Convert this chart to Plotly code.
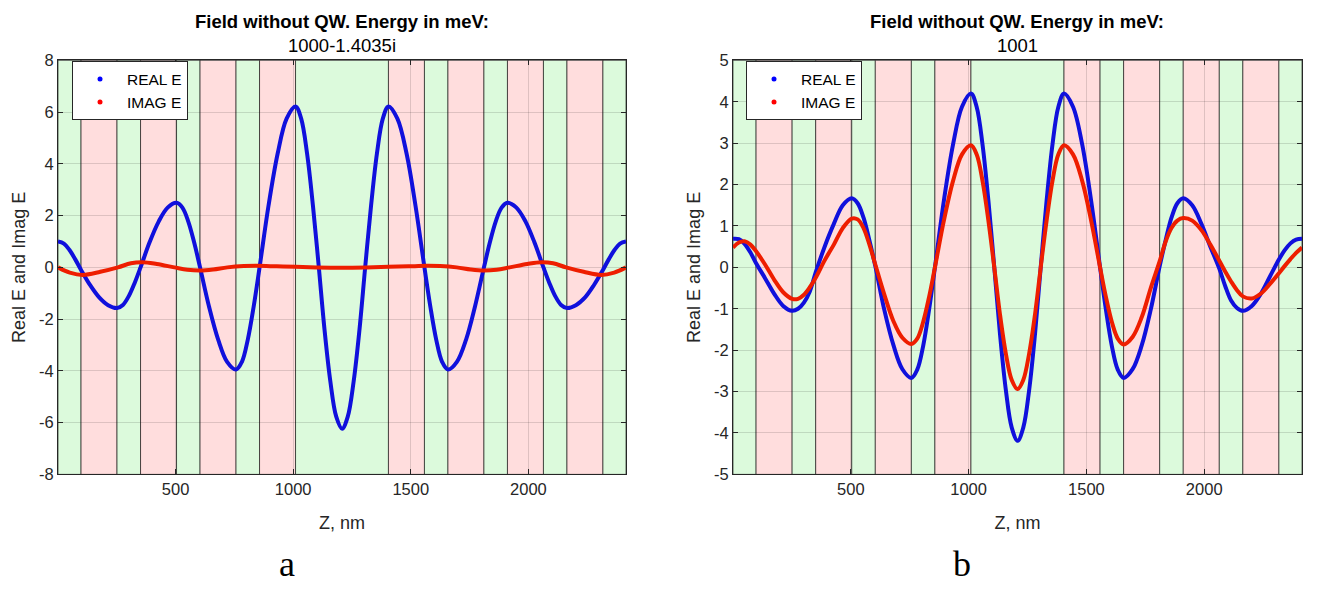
import plotly.graph_objects as go

# ---------------- data ----------------
layer_edges = [0, 98, 251, 351, 504, 604, 757, 857, 1010, 1405, 1558, 1658, 1811, 1911, 2064, 2164, 2317, 2415]
layer_kind = ['g', 'r', 'g', 'r', 'g', 'r', 'g', 'r', 'g', 'r', 'g', 'r', 'g', 'r', 'g', 'r', 'g']

# sample positions (nm) used for the field readings
z_samples = [0, 25, 49, 74, 98, 136, 175, 213, 251, 276, 301, 326, 351, 389, 428, 466, 504, 529, 554, 579, 604,
             642, 681, 719, 757, 782, 807, 832, 857, 895, 934, 972, 1010,
             1034, 1059, 1084, 1109, 1133, 1158, 1183, 1208, 1232, 1257, 1282, 1306, 1331, 1356, 1381, 1405,
             1443, 1482, 1520, 1558, 1583, 1608, 1633, 1658, 1696, 1735, 1773, 1811, 1836, 1861, 1886, 1911,
             1949, 1988, 2026, 2064, 2089, 2114, 2139, 2164, 2202, 2241, 2279, 2317, 2341, 2366, 2390, 2415]

# panel a : E = 1000-1.4035i meV
e_a_real = [1.0, 0.92, 0.67, 0.3, -0.1, -0.68, -1.16, -1.46, -1.57, -1.45, -1.11, -0.6, 0.0, 0.96, 1.77, 2.31, 2.5, 2.31, 1.77, 0.96, 0.0,
            -1.51, -2.79, -3.65, -3.95, -3.65, -2.79, -1.51, 0.0, 2.38, 4.4, 5.75, 6.22,
            5.75, 4.4, 2.38, 0.0, -2.39, -4.41, -5.77, -6.24, -5.77, -4.41, -2.39, 0.0, 2.38, 4.4, 5.75, 6.22,
            5.75, 4.4, 2.38, 0.0, -1.51, -2.79, -3.65, -3.95, -3.65, -2.79, -1.51, 0.0, 0.96, 1.77, 2.31, 2.5,
            2.31, 1.77, 0.96, 0.0, -0.6, -1.11, -1.45, -1.57, -1.46, -1.16, -0.68, -0.1, 0.3, 0.67, 0.92, 1.0]
z_a_imag = [0, 50, 105, 180, 255, 310, 360, 420, 495, 550, 605, 660, 720, 790, 850, 930, 1010, 1100, 1208,
            1310, 1405, 1490, 1565, 1625, 1695, 1755, 1810, 1865, 1920, 1995, 2055, 2105, 2160, 2235, 2310, 2365, 2415]
e_a_imag = [0.0, -0.2, -0.29, -0.17, 0.0, 0.16, 0.2, 0.13, 0.0, -0.09, -0.12, -0.08, 0.0, 0.05, 0.06, 0.04, 0.02, 0.0, -0.01,
            0.0, 0.02, 0.04, 0.06, 0.05, 0.0, -0.08, -0.12, -0.09, 0.0, 0.13, 0.2, 0.16, 0.0, -0.17, -0.29, -0.2, 0.0]

# panel b : E = 1001 meV
e_b_real = [0.69, 0.68, 0.57, 0.36, 0.1, -0.26, -0.64, -0.93, -1.05, -1.0, -0.85, -0.58, -0.12, 0.5, 1.05, 1.5, 1.67, 1.55, 1.2, 0.65, 0.03,
            -1.02, -1.88, -2.46, -2.67, -2.47, -1.9, -1.03, 0.0, 1.61, 2.97, 3.88, 4.2,
            3.88, 2.97, 1.61, 0.0, -1.6, -2.96, -3.87, -4.19, -3.87, -2.96, -1.6, 0.0, 1.61, 2.97, 3.88, 4.2,
            3.88, 2.97, 1.61, 0.0, -1.03, -1.9, -2.47, -2.67, -2.46, -1.88, -1.02, 0.03, 0.65, 1.2, 1.55, 1.67,
            1.5, 1.05, 0.5, -0.03, -0.45, -0.8, -0.98, -1.05, -0.93, -0.63, -0.22, 0.19, 0.41, 0.58, 0.67, 0.69]
e_b_imag = [0.48, 0.6, 0.63, 0.55, 0.39, 0.07, -0.3, -0.6, -0.76, -0.76, -0.66, -0.48, -0.25, 0.17, 0.55, 0.95, 1.18, 1.16, 0.95, 0.55, 0.07,
            -0.65, -1.3, -1.7, -1.85, -1.72, -1.32, -0.72, 0.0, 1.13, 2.09, 2.73, 2.95,
            2.73, 2.09, 1.13, 0.0, -1.13, -2.08, -2.72, -2.94, -2.72, -2.08, -1.13, 0.0, 1.13, 2.09, 2.73, 2.95,
            2.73, 2.09, 1.13, 0.0, -0.72, -1.32, -1.72, -1.86, -1.68, -1.2, -0.5, 0.15, 0.62, 0.95, 1.13, 1.19,
            1.13, 0.9, 0.55, 0.16, -0.1, -0.34, -0.55, -0.7, -0.75, -0.63, -0.4, -0.14, 0.03, 0.2, 0.35, 0.48]

x_tickvals = [500, 1000, 1500, 2000]
x_ticktext = ['500', '1000', '1500', '2000']
ya_tickvals = [-8, -6, -4, -2, 0, 2, 4, 6, 8]
ya_ticktext = ['-8', '-6', '-4', '-2', '0', '2', '4', '6', '8']
yb_tickvals = [-5, -4, -3, -2, -1, 0, 1, 2, 3, 4, 5]
yb_ticktext = ['-5', '-4', '-3', '-2', '-1', '0', '1', '2', '3', '4', '5']

titles_line1 = ['Field without QW. Energy in meV:', 'Field without QW. Energy in meV:']
titles_line2 = ['1000-1.4035i', '1001']
panel_labels = ['a', 'b']
series_names = ['REAL E', 'IMAG E']

# ---------------- style ----------------
FONT = 'Liberation Sans, Arial, Helvetica, sans-serif'
TXT = '#262626'
BLUE = '#1010dc'
RED = '#ee1e00'
GREEN_FILL = '#dcfadc'
RED_FILL = '#ffdddd'

fig = go.Figure()

panels = [
    ('x', 'y', z_samples, e_a_real, z_a_imag, e_a_imag, 'legend'),
    ('x2', 'y2', z_samples, e_b_real, z_samples, e_b_imag, 'legend2'),
]

shapes = []
for xa, ya, zr, er, zi, ei, lg in panels:
    for k, kind in enumerate(layer_kind):
        shapes.append(dict(type='rect', xref=xa, yref=ya + ' domain',
                           x0=layer_edges[k], x1=layer_edges[k + 1], y0=0, y1=1,
                           fillcolor=GREEN_FILL if kind == 'g' else RED_FILL,
                           line=dict(color='rgba(0,0,0,0.6)', width=1), layer='below'))
    fig.add_trace(go.Scatter(x=zr, y=er, mode='lines', line=dict(color=BLUE, width=4, shape='spline'),
                             xaxis=xa, yaxis=ya, showlegend=False, hoverinfo='skip'))
    fig.add_trace(go.Scatter(x=zi, y=ei, mode='lines', line=dict(color=RED, width=4, shape='spline'),
                             xaxis=xa, yaxis=ya, showlegend=False, hoverinfo='skip'))
    fig.add_trace(go.Scatter(x=[None], y=[None], mode='markers', marker=dict(color='blue', size=5),
                             name=series_names[0], xaxis=xa, yaxis=ya, legend=lg))
    fig.add_trace(go.Scatter(x=[None], y=[None], mode='markers', marker=dict(color='red', size=5),
                             name=series_names[1], xaxis=xa, yaxis=ya, legend=lg))

W, H = 1319, 591
ax_common = dict(showline=True, linecolor=TXT, linewidth=1, mirror='ticks', ticks='inside', ticklen=5,
                 tickcolor=TXT, showgrid=True, gridcolor='rgba(0,0,0,0.13)', zeroline=False,
                 tickfont=dict(family=FONT, size=16.5, color=TXT))
xtitle = dict(text='Z, nm', font=dict(size=18, family=FONT, color=TXT), standoff=19)
ytitle = dict(text='Real E and Imag E', font=dict(size=18, family=FONT, color=TXT), standoff=8)

y_dom = [1 - 480 / H, 1 - 53 / H]
legend_common = dict(xanchor='left', yanchor='top', bgcolor='white', bordercolor=TXT, borderwidth=1,
                     font=dict(size=15.5, family=FONT, color='black'), itemwidth=44, tracegroupgap=0,
                     entrywidth=72, entrywidthmode='pixels')
fig.update_layout(
    width=W, height=H, margin=dict(l=0, r=0, t=0, b=0),
    paper_bgcolor='white', plot_bgcolor='white',
    font=dict(family=FONT, color=TXT),
    shapes=shapes,
    xaxis=dict(domain=[58 / W, 626 / W], range=[0, 2415], tickvals=x_tickvals, ticktext=x_ticktext,
               title=xtitle, anchor='y', **ax_common),
    yaxis=dict(domain=y_dom, range=[-8, 8], tickvals=ya_tickvals, ticktext=ya_ticktext,
               title=ytitle, anchor='x', **ax_common),
    xaxis2=dict(domain=[733 / W, 1302 / W], range=[0, 2415], tickvals=x_tickvals, ticktext=x_ticktext,
                title=xtitle, anchor='y2', **ax_common),
    yaxis2=dict(domain=y_dom, range=[-5, 5], tickvals=yb_tickvals, ticktext=yb_ticktext,
                title=ytitle, anchor='x2', **ax_common),
    legend=dict(x=72 / W, y=1 - 54 / H, **legend_common),
    legend2=dict(x=746 / W, y=1 - 54 / H, **legend_common),
)

centers = [342 / W, 1017 / W]
label_x = [287 / W, 962 / W]
annotations = []
for i in range(2):
    annotations.append(dict(xref='paper', yref='paper', x=centers[i], y=1 - 13 / H, xanchor='center',
                            yanchor='middle', text='<b>' + titles_line1[i] + '</b>', showarrow=False,
                            font=dict(size=18.5, family=FONT, color='black')))
    annotations.append(dict(xref='paper', yref='paper', x=centers[i], y=1 - 38 / H, xanchor='center',
                            yanchor='middle', text=titles_line2[i], showarrow=False,
                            font=dict(size=18.5, family=FONT, color='black')))
    annotations.append(dict(xref='paper', yref='paper', x=label_x[i], y=1 - 572 / H, xanchor='center',
                            yanchor='middle', text=panel_labels[i], showarrow=False,
                            font=dict(size=36, family='Liberation Serif, DejaVu Serif, serif', color='black')))
fig.update_layout(annotations=annotations)

fig.write_html('out.html')
